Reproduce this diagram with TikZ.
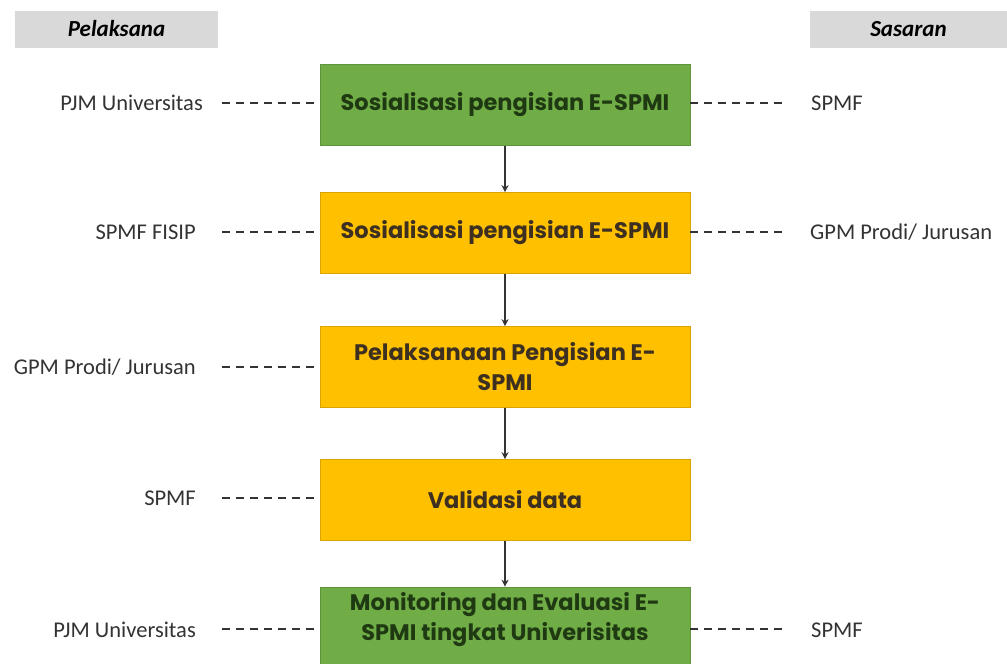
\documentclass[tikz,border=0pt]{standalone}
\usepackage{fontspec}
\setmainfont{Carlito}
\newfontfamily\boxfont{Poppins}
\usetikzlibrary{arrows.meta}
\definecolor{boxgreen}{HTML}{70AD47}
\definecolor{boxyellow}{HTML}{FFC000}
\definecolor{greentext}{HTML}{1F3A12}
\definecolor{yellowtext}{HTML}{3D3020}
\definecolor{headgray}{HTML}{D9D9D9}
\definecolor{linegray}{HTML}{333333}
\tikzset{
  stepbox/.style={draw=#1!85!black, fill=#1, line width=0.6pt, minimum width=370pt, minimum height=81pt,
    inner sep=0pt, align=center, font=\boxfont\bfseries\fontsize{22.5}{30}\selectfont},
  header/.style={fill=headgray, inner sep=0pt, font=\bfseries\itshape\fontsize{23}{26}\selectfont},
  lbl/.style={font=\fontsize{22.5}{26}\selectfont, text=black!80, inner sep=0pt},
  dashlink/.style={draw=linegray, line width=1.2pt, dash pattern=on 8pt off 6pt},
  flow/.style={draw=linegray, line width=1.6pt, -{Stealth[length=7pt,width=7pt]}}
}
\begin{document}
\begin{tikzpicture}[x=1pt,y=-1pt]
\useasboundingbox (0,0) rectangle (1007,664);
\clip (0,0) rectangle (1007,664);
% headers
\node[header, minimum width=203pt, minimum height=37pt] (hpel) at (116.5,29) {Pelaksana};
\node[header, minimum width=197pt, minimum height=37pt] (hsas) at (908.5,29) {Sasaran};
% boxes
\node[stepbox=boxgreen, text=greentext] (b1) at (505,105) {Sosialisasi pengisian E-SPMI};
\node[stepbox=boxyellow, text=yellowtext] (b2) at (505,233) {Sosialisasi pengisian E-SPMI};
\node[stepbox=boxyellow, text=yellowtext] (b3) at (505,367) {Pelaksanaan Pengisian E-\\SPMI};
\node[stepbox=boxyellow, text=yellowtext] (b4) at (505,500) {Validasi data};
\node[stepbox=boxgreen, minimum height=90pt] (b5) at (505,632) {};
\node[align=center, inner sep=0pt, text=greentext, font=\boxfont\bfseries\fontsize{22.5}{30}\selectfont] (t5) at (505,620) {Monitoring dan Evaluasi E-\\SPMI tingkat Univerisitas};
% flow arrows
\draw[flow] (b1.south) -- (b2.north);
\draw[flow] (b2.south) -- (b3.north);
\draw[flow] (b3.south) -- (b4.north);
\draw[flow] (b4.south) -- (b5.north);
% left labels
\node[lbl, anchor=east] (l1) at (203,103) {PJM Universitas};
\node[lbl, anchor=east] (l2) at (196,232) {SPMF FISIP};
\node[lbl, anchor=east] (l3) at (196,367) {GPM Prodi/ Jurusan};
\node[lbl, anchor=east] (l4) at (196,498) {SPMF};
\node[lbl, anchor=east] (l5) at (196,630) {PJM Universitas};
% right labels
\node[lbl, anchor=west] (r1) at (811,103) {SPMF};
\node[lbl, anchor=west] (r2) at (810,232) {GPM Prodi/ Jurusan};
\node[lbl, anchor=west] (r5) at (811,630) {SPMF};
% dashed links
\coordinate (dl1) at (222,103);
\coordinate (dl2) at (222,232);
\coordinate (dl3) at (222,367);
\coordinate (dl4) at (222,498);
\coordinate (dl5) at (222,629);
\coordinate (dr1) at (786,103);
\coordinate (dr2) at (786,232);
\coordinate (dr5) at (786,629);
\draw[dashlink] (dl1) -- (b1.west |- dl1);
\draw[dashlink] (dl2) -- (b2.west |- dl2);
\draw[dashlink] (dl3) -- (b3.west |- dl3);
\draw[dashlink] (dl4) -- (b4.west |- dl4);
\draw[dashlink] (dl5) -- (b5.west |- dl5);
\draw[dashlink] (b1.east |- dr1) -- (dr1);
\draw[dashlink] (b2.east |- dr2) -- (dr2);
\draw[dashlink] (b5.east |- dr5) -- (dr5);
\end{tikzpicture}
\end{document}
